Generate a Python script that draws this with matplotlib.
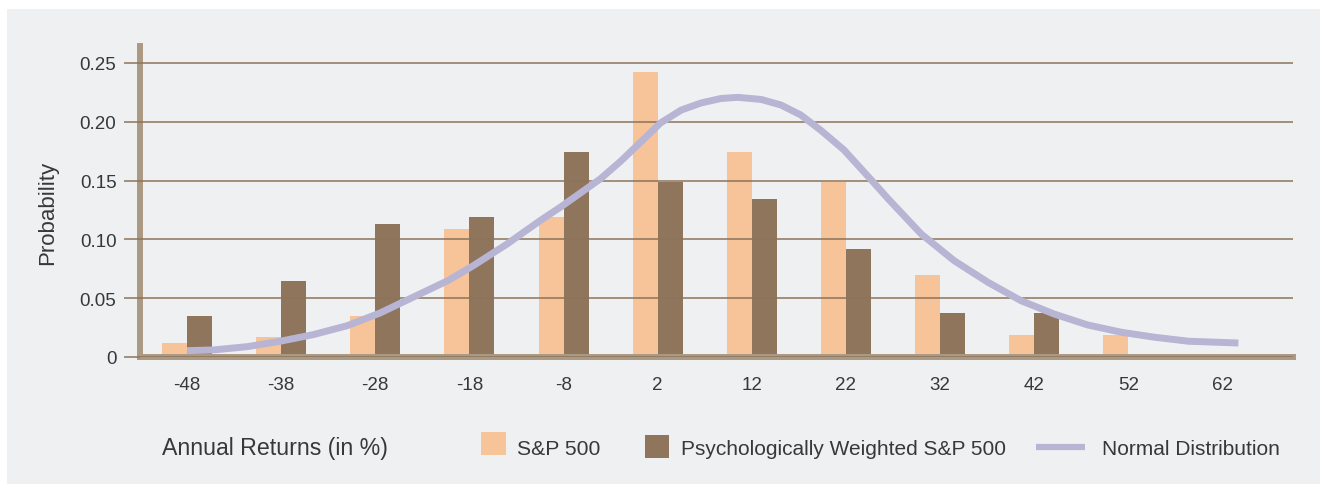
import matplotlib
matplotlib.use("Agg")
import matplotlib.pyplot as plt
from matplotlib.patches import Rectangle
from matplotlib.lines import Line2D

plt.rcParams['font.family'] = ['Liberation Sans', 'DejaVu Sans']

# ---- data ----
returns = [-48, -38, -28, -18, -8, 2, 12, 22, 32, 42, 52, 62]
sp500 = [0.012, 0.017, 0.035, 0.109, 0.119, 0.242, 0.174, 0.1485, 0.0697, 0.0187, 0.0187, 0.0]
psych = [0.035, 0.0646, 0.113, 0.119, 0.174, 0.1485, 0.134, 0.092, 0.037, 0.037, 0.0, 0.0]
curve_x = [-48.0, -45.2, -41.6, -38.1, -34.6, -31.0, -27.5, -24.0, -20.3, -17.6, -14.0,
           -10.5, -8.3, -6.2, -4.1, -1.9, 0.2, 2.3, 4.5, 6.6, 8.7, 10.5, 13.0, 15.1,
           17.2, 19.3, 21.8, 24.7, 26.5, 30.0, 33.5, 37.1, 40.6, 44.1, 47.7, 51.3,
           54.8, 58.4, 63.7]
curve_y = [0.0054, 0.0060, 0.0088, 0.0134, 0.0190, 0.0266, 0.0374, 0.0508, 0.0649,
           0.0776, 0.0961, 0.1159, 0.1276, 0.1395, 0.1514, 0.1667, 0.1828, 0.1990,
           0.2100, 0.2160, 0.2198, 0.2208, 0.2190, 0.2143, 0.2058, 0.1930, 0.1760,
           0.1505, 0.1344, 0.1046, 0.0819, 0.0635, 0.0479, 0.0366, 0.0272, 0.0210,
           0.0168, 0.0134, 0.0119]
yticks = [0, 0.05, 0.10, 0.15, 0.20, 0.25]
ytick_labels = ['0', '0.05', '0.10', '0.15', '0.20', '0.25']
series_names = ['S&P 500', 'Psychologically Weighted S&P 500', 'Normal Distribution']

# ---- style ----
C_SP = '#f6c498'
C_PSY = '#8f755c'
C_NORM = '#b8b4d4'
C_GRID = '#8c735a'
C_SPINE = '#aa9a84'
C_BG = '#eff0f2'
C_TXT = '#383838'

W, H = 1320, 485
fig = plt.figure(figsize=(W / 100, H / 100), dpi=100, facecolor='white')
fig.add_artist(Rectangle((7 / W, 0), 1, (H - 10) / H, transform=fig.transFigure,
                         facecolor=C_BG, edgecolor='none', zorder=0))

ax = fig.add_axes([140 / W, (H - 358) / H, (1293 - 140) / W, (358 - 47) / H])
ax.set_facecolor('none')

bw = 2.66
ax.bar([r - bw / 2 for r in returns], sp500, width=bw, color=C_SP, zorder=1)
ax.bar([r + bw / 2 for r in returns], psych, width=bw, color=C_PSY, zorder=1)
ax.plot(curve_x, curve_y, color=C_NORM, lw=5.0, solid_capstyle='butt',
        solid_joinstyle='round', zorder=3)

ax.set_xlim(-53, 69.5)
ax.set_ylim(0, (358 - 47) / 1176)

ax.set_axisbelow(False)
ax.set_yticks(yticks, labels=ytick_labels)
ax.yaxis.grid(True, color=C_GRID, lw=1.1)
ax.xaxis.grid(False)
ax.set_xticks(returns, labels=[str(r) for r in returns])

ax.tick_params(axis='y', length=11.5, width=1.1, color=C_GRID, pad=5.5,
               labelsize=13.5, labelcolor=C_TXT)
ax.tick_params(axis='x', length=0, pad=14, labelsize=13.5, labelcolor=C_TXT)

for s in ['top', 'right']:
    ax.spines[s].set_visible(False)
for s in ['left', 'bottom']:
    ax.spines[s].set_color(C_SPINE)
    ax.spines[s].set_linewidth(4.3)
    ax.spines[s].set_capstyle('projecting')

fig.text(48 / W, 1 - 213 / H, 'Probability', rotation=90, ha='center', va='center',
         fontsize=16, color=C_TXT)

# ---- legend row ----
base = (H - 455) / H
fig.text(162 / W, base, 'Annual Returns (in %)', ha='left', va='baseline',
         fontsize=16.7, color=C_TXT)
fig.add_artist(Rectangle((481 / W, (H - 456) / H), 24.5 / W, 23 / H,
                         transform=fig.transFigure, facecolor=C_SP, edgecolor='none'))
fig.text(517 / W, base, series_names[0], ha='left', va='baseline', fontsize=15.2, color=C_TXT)
fig.add_artist(Rectangle((645 / W, (H - 459) / H), 23.5 / W, 23 / H,
                         transform=fig.transFigure, facecolor=C_PSY, edgecolor='none'))
fig.text(681 / W, base, series_names[1], ha='left', va='baseline', fontsize=15, color=C_TXT)
fig.add_artist(Line2D([1036 / W, 1085 / W], [(H - 448) / H] * 2, transform=fig.transFigure,
                      color=C_NORM, lw=4.5, solid_capstyle='butt'))
fig.text(1102 / W, base, series_names[2], ha='left', va='baseline', fontsize=15, color=C_TXT)

fig.savefig('out.png', dpi=100, facecolor='white')
